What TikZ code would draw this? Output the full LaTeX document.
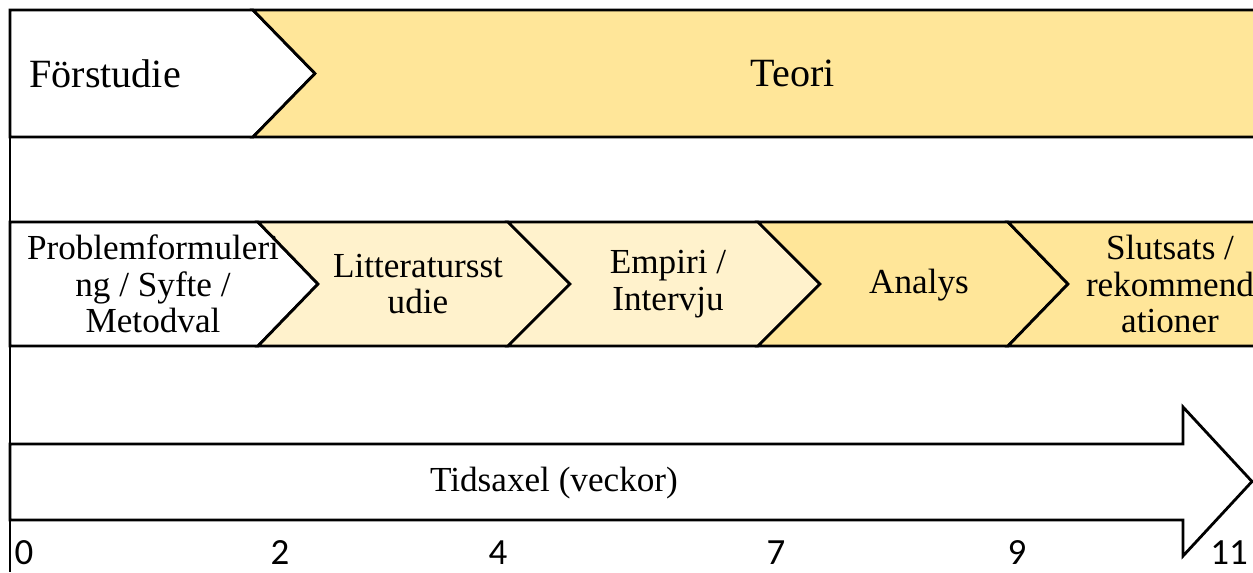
\documentclass[tikz,border=0pt]{standalone}
\usepackage{fontspec}
\setmainfont{Liberation Serif}
\newfontfamily\numfont{Carlito}
\usetikzlibrary{positioning}

\definecolor{gold}{HTML}{FFE699}
\definecolor{lightgold}{HTML}{FFF2CC}

\begin{document}
\begin{tikzpicture}[
  x=0.01cm, y=-0.01cm,
  line width=0.8pt,
  phase/.style={draw=black,line join=miter},
  txt/.style={font=\fontsize{10}{10.4}\selectfont,align=center,inner sep=0pt},
  bigtxt/.style={font=\fontsize{11.4}{13}\selectfont,inner sep=0pt},
  week/.style={font=\numfont\fontsize{10.5}{11}\selectfont,inner sep=0pt}
]
\useasboundingbox (0,0) rectangle (1253,572);

% top band
\filldraw[phase,fill=white] (10,10) -- (253,10) -- (315,73.5) -- (253,137) -- (10,137) -- cycle;
\filldraw[phase,fill=gold] (253,10) -- (1275,10) -- (1275,137) -- (253,137) -- (315,73.5) -- cycle;
\node[bigtxt,anchor=west] (fors) at (28,73.5) {Förstudie};
\node[bigtxt] (teori) at (793,73.5) {Teori};

% phases
\filldraw[phase,fill=white] (10,222) -- (258,222) -- (318,284) -- (258,346) -- (10,346) -- cycle;
\filldraw[phase,fill=lightgold] (258,222) -- (508,222) -- (570,284) -- (508,346) -- (258,346) -- (318,284) -- cycle;
\filldraw[phase,fill=lightgold] (508,222) -- (758,222) -- (820,284) -- (758,346) -- (508,346) -- (570,284) -- cycle;
\filldraw[phase,fill=gold] (758,222) -- (1008,222) -- (1068,284) -- (1008,346) -- (758,346) -- (820,284) -- cycle;
\filldraw[phase,fill=gold] (1008,222) -- (1275,222) -- (1275,346) -- (1008,346) -- (1068,284) -- cycle;
\node[txt] (probl) at (153,284) {Problemformuleri\\ng / Syfte /\\Metodval};
\node[txt] (litt) at (418,284) {Litteratursst\\udie};
\node[txt] (empiri) at (668,284) {Empiri /\\Intervju};
\node[txt] (analys) at (919,285) {Analys};
\node[txt] (slutsats) at (1170,284) {Slutsats /\\rekommend\\ationer};

% time axis
\filldraw[phase,fill=white] (10,444) -- (1183,444) -- (1183,407) -- (1252,481.5) -- (1183,556) -- (1183,520) -- (10,520) -- cycle;
\node[txt] (tidsaxel) at (554,483) {Tidsaxel (veckor)};
\draw (10,10) -- (10,572);

\node[week] (w0) at (24,553) {0};
\node[week] (w2) at (280,553) {2};
\node[week] (w4) at (498,553) {4};
\node[week] (w7) at (776,553) {7};
\node[week] (w9) at (1017,553) {9};
\node[week] (w11) at (1229,553) {11};
\end{tikzpicture}
\end{document}
